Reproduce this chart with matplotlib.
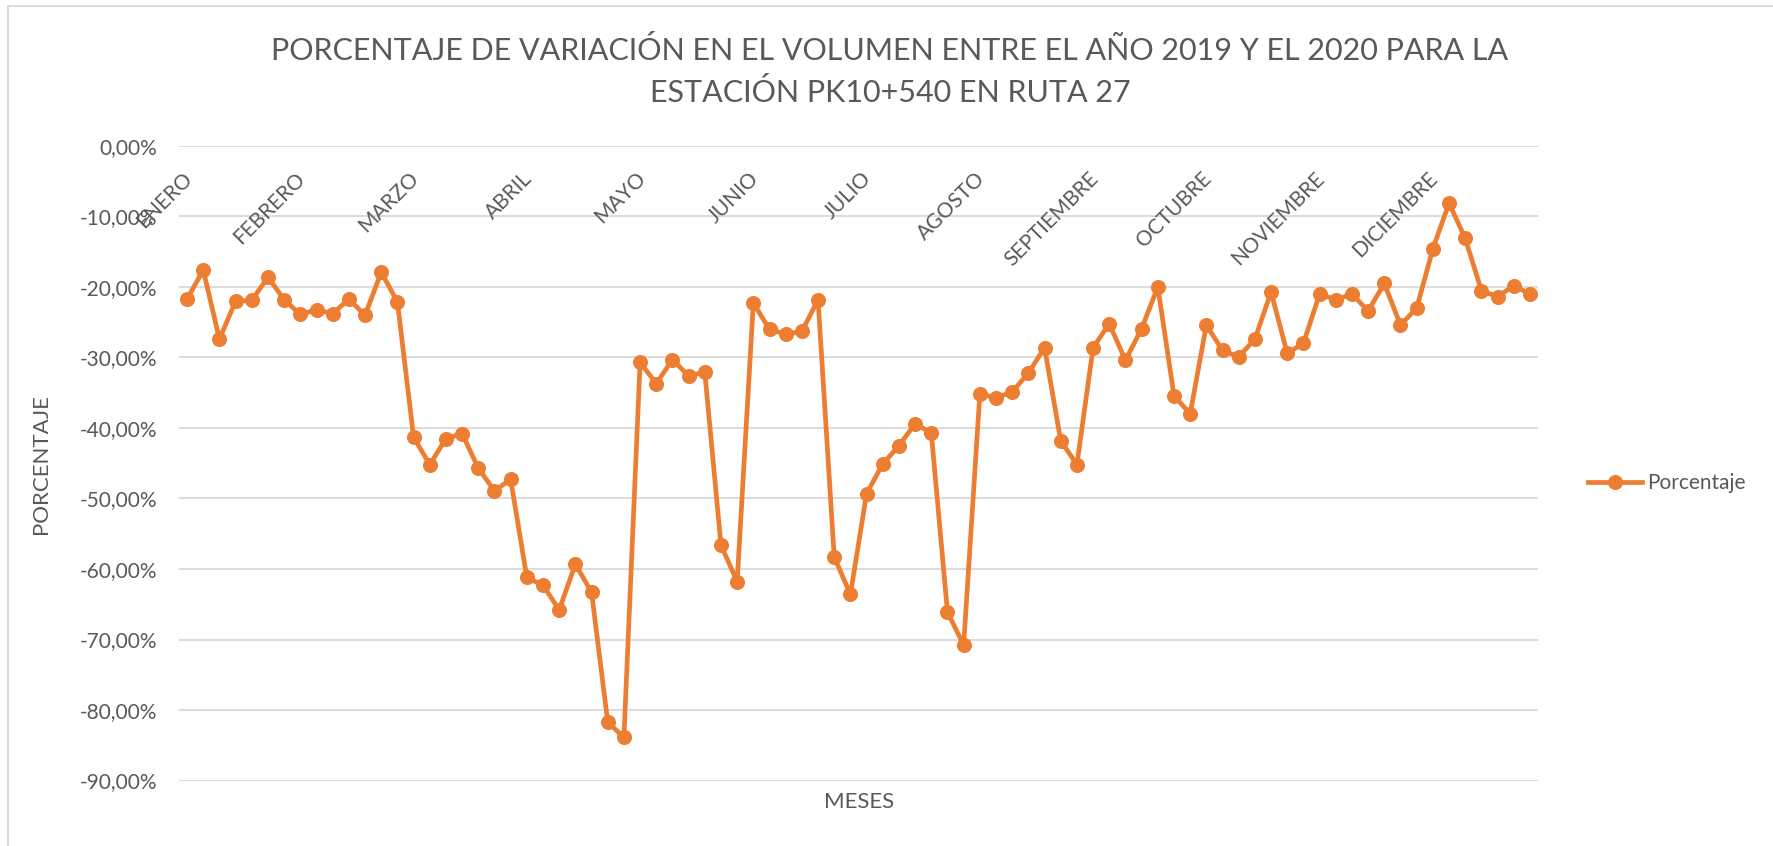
import matplotlib
matplotlib.use("Agg")
import matplotlib.pyplot as plt
from matplotlib.patches import Rectangle

plt.rcParams['font.family'] = ['Lato', 'DejaVu Sans']

# Weekly variation (%) between 2019 and 2020, 7 weeks per month label
porcentaje = [
    -21.7, -17.6, -27.4, -22.0, -21.9, -18.6, -21.8,
    -23.9, -23.2, -23.8, -21.7, -24.0, -17.9, -22.1,
    -41.3, -45.2, -41.5, -40.8, -45.7, -48.9, -47.3,
    -61.2, -62.3, -65.8, -59.3, -63.3, -81.7, -83.9,
    -30.7, -33.7, -30.3, -32.6, -32.1, -56.6, -61.8,
    -22.3, -26.0, -26.7, -26.3, -21.8, -58.3, -63.6,
    -49.3, -45.1, -42.5, -39.4, -40.7, -66.1, -70.8,
    -35.2, -35.7, -34.9, -32.2, -28.6, -41.8, -45.2,
    -28.6, -25.2, -30.4, -25.9, -20.0, -35.4, -38.0,
    -25.4, -29.0, -29.9, -27.4, -20.7, -29.4, -28.0,
    -21.0, -21.8, -21.0, -23.4, -19.5, -25.4, -23.0,
    -14.6, -8.1, -13.1, -20.5, -21.4, -19.8, -21.0,
]
meses = ["ENERO", "FEBRERO", "MARZO", "ABRIL", "MAYO", "JUNIO", "JULIO",
         "AGOSTO", "SEPTIEMBRE", "OCTUBRE", "NOVIEMBRE", "DICIEMBRE"]
yticks = [0, -10, -20, -30, -40, -50, -60, -70, -80, -90]

W, H = 1773, 846
fig = plt.figure(figsize=(W / 100, H / 100), dpi=100)
ax = fig.add_axes([179 / W, 1 - 780.5 / H, (1538 - 179) / W, (780.5 - 146) / H])

orange = "#ED7D31"
grey_txt = "#595959"
grid_c = "#D9D9D9"

x = list(range(len(porcentaje)))
line, = ax.plot(x, porcentaje, color=orange, lw=3.4, marker="o", ms=9.8,
                solid_joinstyle="round", zorder=3, label="Porcentaje")

ax.set_xlim(-0.5, len(porcentaje) - 0.5)
ax.set_ylim(-90, 0)
ax.set_yticks(yticks)
ax.set_yticklabels([f"{v:.2f}%".replace(".", ",") for v in yticks],
                   fontsize=15, color=grey_txt)
ax.tick_params(axis="y", length=0, pad=16)
ax.set_xticks([])
for s in ax.spines.values():
    s.set_visible(False)
ax.grid(axis="y", color=grid_c, lw=1.3)
ax.set_axisbelow(True)

# month labels next to the 0% axis, one every 7 weeks
step = len(porcentaje) // len(meses)
for k, m in enumerate(meses):
    ax.annotate(m, xy=(k * step, 0), xytext=(6.5, -16), textcoords="offset points",
                ha="right", va="top", rotation=45, fontsize=15, color=grey_txt,
                annotation_clip=False)

fig.text(890 / W, 1 - 50 / H, "PORCENTAJE DE VARIACIÓN EN EL VOLUMEN ENTRE EL AÑO 2019 Y EL 2020 PARA LA",
         ha="center", va="center", fontsize=22, color=grey_txt)
fig.text(890 / W, 1 - 93 / H, "ESTACIÓN PK10+540 EN RUTA 27",
         ha="center", va="center", fontsize=22, color=grey_txt)

fig.text(859 / W, 1 - 802 / H, "MESES", ha="center", va="center",
         fontsize=16, color=grey_txt)
fig.text(41 / W, 1 - 464 / H, "PORCENTAJE", ha="center", va="center",
         rotation=90, fontsize=16, color=grey_txt)

fig.legend(handles=[line], loc="center left",
           bbox_to_anchor=(1588 / W, 1 - 483 / H), frameon=False,
           fontsize=15, handlelength=2.6, handletextpad=0.25,
           borderpad=0, borderaxespad=0, labelcolor=grey_txt)

# chart area outline
fig.patches.append(Rectangle((8 / W, -0.1), 1.2, 1 - 6 / H + 0.1,
                             transform=fig.transFigure, fill=False,
                             edgecolor=grid_c, lw=1.3))

fig.savefig("out.png", dpi=100, facecolor="white")
